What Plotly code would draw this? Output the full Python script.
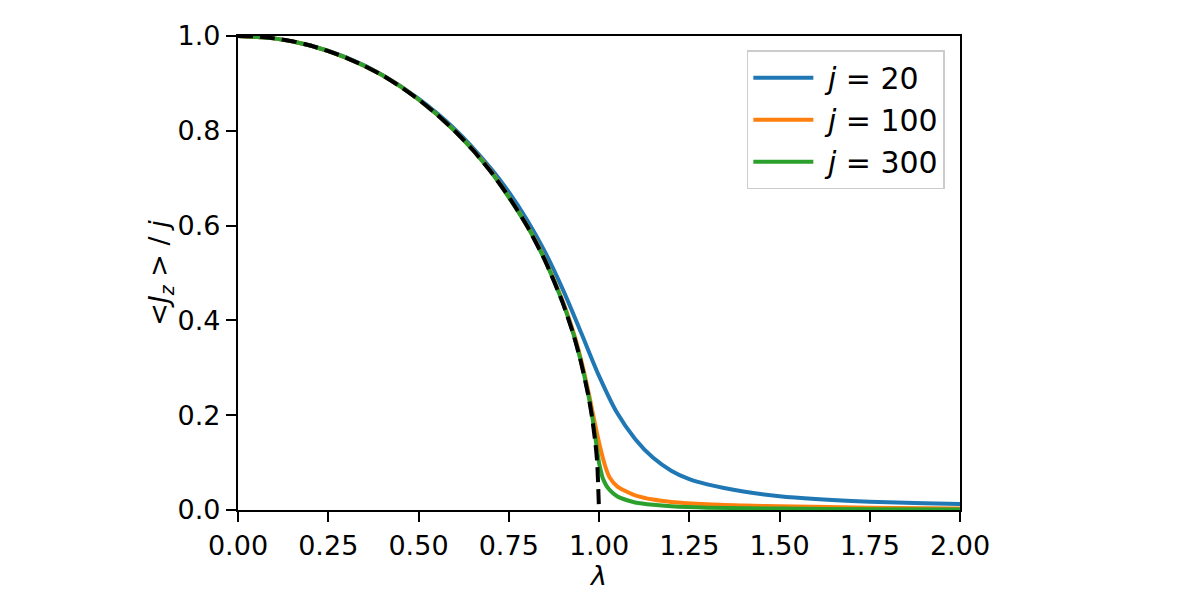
import plotly.graph_objects as go

# ---- data ----
lam_mf = [0, 0.05, 0.1, 0.15, 0.2, 0.25, 0.3, 0.35, 0.4, 0.45, 0.5, 0.55, 0.6, 0.65,
          0.7, 0.75, 0.8, 0.85, 0.9, 0.93, 0.95, 0.97, 0.98, 0.99, 0.995, 1.0]
val_mf = [1.0, 0.999, 0.995, 0.989, 0.980, 0.968, 0.954, 0.937, 0.917, 0.893, 0.866,
          0.835, 0.800, 0.760, 0.714, 0.661, 0.600, 0.527, 0.436, 0.368, 0.312, 0.243,
          0.199, 0.141, 0.100, 0.0]

lam_20 = [0, 0.1, 0.2, 0.3, 0.4, 0.5, 0.6, 0.7, 0.75, 0.8, 0.85, 0.9, 0.95, 1.0, 1.05,
          1.1, 1.15, 1.2, 1.25, 1.3, 1.4, 1.5, 1.6, 1.7, 1.8, 1.9, 2.0]
val_20 = [1.0, 0.995, 0.980, 0.955, 0.918, 0.868, 0.804, 0.721, 0.671, 0.613, 0.545,
          0.465, 0.375, 0.283, 0.205, 0.150, 0.110, 0.083, 0.065, 0.054, 0.039, 0.029,
          0.023, 0.019, 0.0165, 0.0145, 0.0128]

lam_100 = [0, 0.1, 0.2, 0.3, 0.4, 0.5, 0.6, 0.7, 0.8, 0.85, 0.9, 0.93, 0.95, 0.97, 0.98,
           0.99, 1.0, 1.01, 1.02, 1.03, 1.05, 1.07, 1.1, 1.15, 1.2, 1.3, 1.4, 1.5, 1.75, 2.0]
val_100 = [1.0, 0.995, 0.980, 0.954, 0.917, 0.866, 0.800, 0.715, 0.601, 0.529, 0.440,
           0.373, 0.318, 0.252, 0.215, 0.178, 0.143, 0.112, 0.086, 0.068, 0.050, 0.041,
           0.031, 0.022, 0.017, 0.012, 0.0095, 0.0078, 0.0048, 0.003]

lam_300 = [0, 0.1, 0.2, 0.3, 0.4, 0.5, 0.6, 0.7, 0.8, 0.85, 0.9, 0.93, 0.95, 0.97, 0.98,
           0.99, 1.0, 1.005, 1.01, 1.02, 1.03, 1.05, 1.08, 1.1, 1.15, 1.2, 1.3, 1.5, 1.75, 2.0]
val_300 = [1.0, 0.995, 0.980, 0.954, 0.917, 0.866, 0.800, 0.714, 0.600, 0.527, 0.437,
           0.369, 0.313, 0.245, 0.203, 0.153, 0.100, 0.083, 0.068, 0.052, 0.042, 0.029,
           0.020, 0.016, 0.011, 0.008, 0.005, 0.003, 0.0015, 0.001]

x_ticks = [0, 0.25, 0.5, 0.75, 1.0, 1.25, 1.5, 1.75, 2.0]
y_ticks = [0, 0.2, 0.4, 0.6, 0.8, 1.0]

FONT = "DejaVu Sans"
FS = 27
LFS = 30

fig = go.Figure()
series = [
    (lam_20, val_20, "#1f77b4", "&nbsp;<i>j</i> = 20"),
    (lam_100, val_100, "#ff7f0e", "&nbsp;<i>j</i> = 100"),
    (lam_300, val_300, "#2ca02c", "&nbsp;<i>j</i> = 300"),
]
for lx, vy, col, name in series:
    fig.add_trace(go.Scatter(x=lx, y=vy, mode="lines", name=name,
                             line=dict(color=col, width=4, shape="spline", smoothing=0.8)))
fig.add_trace(go.Scatter(x=lam_mf, y=val_mf, mode="lines", showlegend=False,
                         line=dict(color="black", width=4, dash="15px,7px",
                                   shape="spline", smoothing=0.6)))

axis_common = dict(showgrid=False, zeroline=False, showline=True, linecolor="black",
                   linewidth=2.2, mirror=True, ticks="outside", ticklen=10, tickwidth=2.2,
                   tickcolor="black", tickfont=dict(family=FONT, size=FS, color="black"))

fig.update_xaxes(range=[0, 2], tickvals=x_ticks, tickformat=".2f",
                 title=dict(text="<i>λ</i>", font=dict(family=FONT, size=FS, color="black"),
                            standoff=4),
                 **axis_common)
fig.update_yaxes(range=[0, 1], tickvals=y_ticks, tickformat=".1f",
                 title=dict(text="&lt;<i>J<sub>z</sub></i> &gt; / <i>j</i>",
                            font=dict(family=FONT, size=FS, color="black"), standoff=1),
                 **axis_common)

fig.update_layout(
    width=1200, height=600,
    margin=dict(l=238, r=240, t=36, b=90),
    paper_bgcolor="white", plot_bgcolor="white",
    font=dict(family=FONT, size=FS, color="black"),
    legend=dict(x=0.979, y=0.97, xanchor="right", yanchor="top",
                bgcolor="rgba(255,255,255,0.8)", bordercolor="#cccccc", borderwidth=1.5,
                font=dict(family=FONT, size=LFS, color="black"),
                itemwidth=60, tracegroupgap=0),
)

fig.write_html("out.html")
